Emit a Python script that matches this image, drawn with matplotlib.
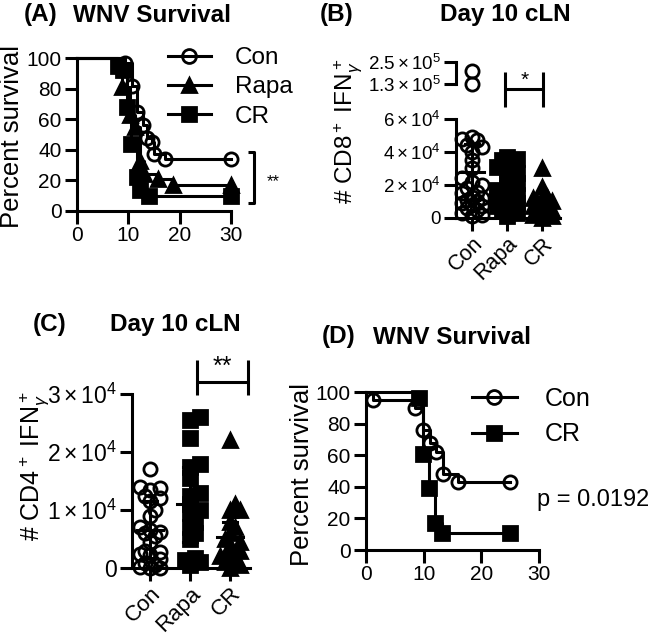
import numpy as np
import matplotlib.pyplot as plt
from matplotlib.lines import Line2D

plt.rcParams['font.family'] = ['Liberation Sans', 'DejaVu Sans']
plt.rcParams['mathtext.fontset'] = 'custom'
plt.rcParams['mathtext.rm'] = 'Liberation Sans'
plt.rcParams['mathtext.it'] = 'Liberation Sans:italic'
plt.rcParams['mathtext.bf'] = 'Liberation Sans:bold'

# ---- data ----
# (A) WNV survival, time (days) / percent survival
a_con_t = [0, 9.4, 10.7, 11.6, 12.8, 13.6, 14.6, 15.0, 17.2, 30]
a_con_s = [100, 97, 82, 65, 56, 48, 45, 37, 34, 34]
a_rapa_t = [0, 8.7, 10.3, 11.3, 12.3, 13.0, 15.7, 18.7, 30]
a_rapa_s = [100, 81, 63, 55, 33, 24, 21, 17, 17]
a_cr_t = [0, 8.0, 9.0, 9.7, 10.6, 11.6, 12.3, 14.0, 30]
a_cr_s = [100, 95, 92, 68, 44, 22, 14, 10, 10]

groups = ['Con', 'Rapa', 'CR']

# (B) # CD8+ IFNg+ cells, day 10 cLN
b_con = [200000, 130000, 49000, 48000, 47000, 44000, 43000, 40000, 35000, 30000,
         24000, 22000, 20000, 18000, 16000, 15000, 13000, 12000, 11000, 10000,
         9000, 8000, 7000, 6000, 5000, 3000, 2000, 1000]
b_rapa = [37000, 36000, 35000, 33000, 31000, 29000, 27000, 24000, 21000, 19000,
          17000, 16000, 15000, 14000, 13000, 12000, 11000, 10000, 9000, 8000,
          7000, 6000, 5000, 3000, 1000]
b_cr = [30000, 19000, 13000, 12000, 11000, 10000, 9000, 8000, 7000, 6000,
        5000, 4000, 3000, 2000, 1000, 0]
b_mean = [28000, 11500, 7500]
b_sd_hi = [45000, 20000, 13000]
b_sd_lo = [11000, 3000, 2000]

# (C) # CD4+ IFNg+ cells, day 10 cLN
c_con = [17000, 14000, 13800, 13500, 12500, 12000, 11500, 10000, 9000, 7000,
         6500, 6200, 6000, 5500, 4500, 3000, 2800, 2500, 2200, 1500,
         800, 500, 200, 0, 0]
c_rapa = [26000, 25500, 22500, 18000, 17500, 15500, 13000, 12500, 11000, 10000,
          9500, 8000, 7000, 6000, 5000, 1800, 1400, 1000, 500]
c_cr = [22000, 11000, 10000, 10000, 8000, 7000, 6000, 5000, 4500, 4000,
        3000, 2500, 2000, 1500, 1000, 500, 0]
c_mean = [6600, 11000, 5300]
c_sd_hi = [11500, 17500, 8000]
c_sd_lo = [1700, 4500, 2600]

# (D) WNV survival
d_con_t = [0, 1.2, 8.5, 9.9, 11.1, 12.1, 13.3, 16.0, 25]
d_con_s = [100, 95, 90, 76, 68, 62, 48, 43, 43]
d_cr_t = [0, 9.2, 9.8, 11.0, 12.0, 13.2, 25]
d_cr_s = [100, 96, 61, 39, 17, 11, 11]

W, H = 653, 642
fig = plt.figure(figsize=(6.53, 6.42), dpi=100)
LW = 2.2


def box(x0, y0, x1, y1):
    return [x0 / W, 1 - y1 / H, (x1 - x0) / W, (y1 - y0) / H]


def fig_line(xs, ys):
    fig.add_artist(Line2D([x / W for x in xs], [1 - y / H for y in ys],
                          transform=fig.transFigure, color='k', lw=LW,
                          solid_capstyle='butt'))


def fig_text(x, y, s, **kw):
    fig.text(x / W, 1 - y / H, s, **kw)


def style(ax, size=15):
    for side in ['top', 'right']:
        ax.spines[side].set_visible(False)
    for side in ['left', 'bottom']:
        ax.spines[side].set_linewidth(LW)
    ax.tick_params(width=LW, length=9, labelsize=size, pad=2, color='k')


def swarm(vals, px_y, px_x, d=13.0, nmax=2):
    # narrow beeswarm offsets (x data units); overlaps allowed when crowded
    vals = np.asarray(vals, float)
    placed = []
    xs = np.zeros(len(vals))
    step, thr = 0.38 * d, 0.55 * d
    cands = [0.0]
    for k in range(1, nmax + 1):
        cands += [k * step, -k * step]
    for i in np.argsort(vals):
        y = vals[i] * px_y
        best, best_d = 0.0, -1
        for c in cands:
            md = min([np.hypot(c - p, y - q) for p, q in placed] or [1e9])
            if md >= thr:
                best = c
                break
            if md > best_d:
                best, best_d = c, md
        placed.append((best, y))
        xs[i] = best / px_x
    return xs


def km(ax, t, s, marker, fill, ms=9.5):
    ax.plot(t, s, drawstyle='steps-post', color='k', lw=LW, clip_on=False)
    ax.plot(t[1:], s[1:], ls='none', marker=marker, ms=ms, mfc=fill,
            mec='k', mew=2, clip_on=False)


def handle(marker, fill):
    return Line2D([], [], color='k', lw=LW, marker=marker, ms=10, mfc=fill,
                  mec='k', mew=2)


# ---------------- (A) ----------------
ax = fig.add_axes(box(77, 58, 231, 211))
style(ax)
km(ax, a_con_t, a_con_s, 'o', 'none')
km(ax, a_rapa_t, a_rapa_s, '^', 'k')
km(ax, a_cr_t, a_cr_s, 's', 'k')
ax.set_xlim(0, 30)
ax.set_ylim(0, 100)
ax.set_xticks([0, 10, 20, 30])
ax.set_yticks([0, 20, 40, 60, 80, 100])
ax.legend([handle('o', 'none'), handle('^', 'k'), handle('s', 'k')], groups,
          loc='upper left', bbox_to_anchor=(168 / W, 1 - 47 / H),
          bbox_transform=fig.transFigure, frameon=False, fontsize=17.5,
          borderpad=0, borderaxespad=0, handlelength=1.75, handletextpad=1.0,
          labelspacing=0.3)
fig_line([248, 254, 254, 248], [152, 152, 203, 203])
fig_text(267, 182, '**', fontsize=12, ha='left', va='center')
fig_text(24, 15, '(A)', fontsize=17.5, fontweight='bold', va='center')
fig_text(73, 15, 'WNV Survival', fontsize=17.5, fontweight='bold', va='center')
fig_text(12, 136, 'Percent survival', fontsize=18.5, rotation=90,
         ha='center', va='center')

# ---------------- (B) ----------------
xpos = np.arange(1, 4)
ax_top = fig.add_axes(box(456, 62, 560, 84))
ax_b = fig.add_axes(box(456, 119, 560, 218))
for a in (ax_top, ax_b):
    style(a, 13.5)
    a.set_xlim(0.55, 3.5)
ax_top.spines['bottom'].set_visible(False)
ax_top.set_xticks([])
ax_top.set_ylim(1.3e5, 2.5e5)
ax_top.set_yticks([1.3e5, 2.5e5])
ax_top.set_yticklabels([r'$\mathregular{1.3\times10^5}$', r'$\mathregular{2.5\times10^5}$'])
ax_b.set_ylim(0, 6e4)
ax_b.set_yticks([0, 2e4, 4e4, 6e4])
ax_b.set_yticklabels(['0', r'$\mathregular{2\times10^4}$', r'$\mathregular{4\times10^4}$',
                      r'$\mathregular{6\times10^4}$'])
ax_b.set_xticks(xpos)
ax_b.set_xticklabels(groups, rotation=45, ha='right', va='top',
                     rotation_mode='anchor', fontsize=15.5)

b_marks = [('o', 'none'), ('s', 'k'), ('^', 'k')]
for x, vals, (m, fc) in zip(xpos, [b_con, b_rapa, b_cr], b_marks):
    vals = np.array(vals, float)
    low = vals[vals <= 6e4]
    high = vals[vals > 6e4]
    off = swarm(low, 99 / 6e4, 35.5)
    ax_b.plot(x + off, low, ls='none', marker=m, ms=9.5, mfc=fc, mec='k',
              mew=2, clip_on=False)
    if len(high):
        off = swarm(high, 22 / 1.2e5, 35.5)
        ax_top.plot(x + off, high, ls='none', marker=m, ms=9.5, mfc=fc,
                    mec='k', mew=2, clip_on=False)
for x, mu, hi, lo in zip(xpos, b_mean, b_sd_hi, b_sd_lo):
    ax_b.plot([x - 0.35, x + 0.35], [mu, mu], color='k', lw=LW)
    ax_b.plot([x, x], [lo, hi], color='k', lw=LW)
    ax_b.plot([x - 0.2, x + 0.2], [hi, hi], color='k', lw=LW)
    ax_b.plot([x - 0.2, x + 0.2], [lo, lo], color='k', lw=LW)

fig_line([505, 505], [72, 107])
fig_line([543, 543], [72, 107])
fig_line([505, 543], [89, 89])
fig_text(525, 80, '*', fontsize=15, ha='center', va='center')
fig_text(320, 15, '(B)', fontsize=17.5, fontweight='bold', va='center')
fig_text(440, 15, 'Day 10 cLN', fontsize=17.5, fontweight='bold', va='center')
fig_text(348, 131, r'# CD8$^+$ IFN$_\gamma^+$', fontsize=17.5, rotation=90,
         ha='center', va='center')

# ---------------- (C) ----------------
ax = fig.add_axes(box(132, 394, 250, 568))
style(ax, 16.5)
ax.set_xlim(0.55, 3.5)
ax.set_ylim(0, 3e4)
ax.set_yticks([0, 1e4, 2e4, 3e4])
ax.set_yticklabels(['0', r'$\mathregular{1\times10^4}$', r'$\mathregular{2\times10^4}$',
                    r'$\mathregular{3\times10^4}$'])
ax.set_xticks(xpos)
ax.set_xticklabels(groups, rotation=45, ha='right', va='top',
                   rotation_mode='anchor', fontsize=16)
for x, vals, (m, fc) in zip(xpos, [c_con, c_rapa, c_cr], b_marks):
    off = swarm(vals, 174 / 3e4, 40)
    ax.plot(x + off, vals, ls='none', marker=m, ms=9.5, mfc=fc, mec='k',
            mew=2, clip_on=False)
for x, mu, hi, lo in zip(xpos, c_mean, c_sd_hi, c_sd_lo):
    ax.plot([x - 0.33, x + 0.33], [mu, mu], color='k', lw=LW)
    ax.plot([x, x], [lo, hi], color='k', lw=LW)
    ax.plot([x - 0.18, x + 0.18], [hi, hi], color='k', lw=LW)
    ax.plot([x - 0.18, x + 0.18], [lo, lo], color='k', lw=LW)

fig_line([197, 197], [360, 395])
fig_line([248, 248], [360, 395])
fig_line([197, 248], [382, 382])
fig_text(222, 367, '**', fontsize=18, ha='center', va='center')
fig_text(33, 325, '(C)', fontsize=17.5, fontweight='bold', va='center')
fig_text(110, 325, 'Day 10 cLN', fontsize=17.5, fontweight='bold', va='center')
fig_text(34, 466, r'# CD4$^+$ IFN$_\gamma^+$', fontsize=18, rotation=90,
         ha='center', va='center')

# ---------------- (D) ----------------
ax = fig.add_axes(box(366, 392, 539, 550))
style(ax)
km(ax, d_con_t, d_con_s, 'o', 'none')
km(ax, d_cr_t, d_cr_s, 's', 'k')
ax.set_xlim(0, 30)
ax.set_ylim(0, 100)
ax.set_xticks([0, 10, 20, 30])
ax.set_yticks([0, 20, 40, 60, 80, 100])
ax.legend([handle('o', 'none'), handle('s', 'k')], ['Con', 'CR'],
          loc='upper left', bbox_to_anchor=(472 / W, 1 - 387 / H),
          bbox_transform=fig.transFigure, frameon=False, fontsize=18,
          borderpad=0, borderaxespad=0, handlelength=1.8, handletextpad=1.1,
          labelspacing=0.45)
fig_text(537, 500, 'p = 0.0192', fontsize=17, ha='left', va='center')
fig_text(322, 337, '(D)', fontsize=17.5, fontweight='bold', va='center')
fig_text(373, 337, 'WNV Survival', fontsize=17.5, fontweight='bold', va='center')
fig_text(302, 475, 'Percent survival', fontsize=18.5, rotation=90,
         ha='center', va='center')

fig.savefig('out.png', dpi=100)
